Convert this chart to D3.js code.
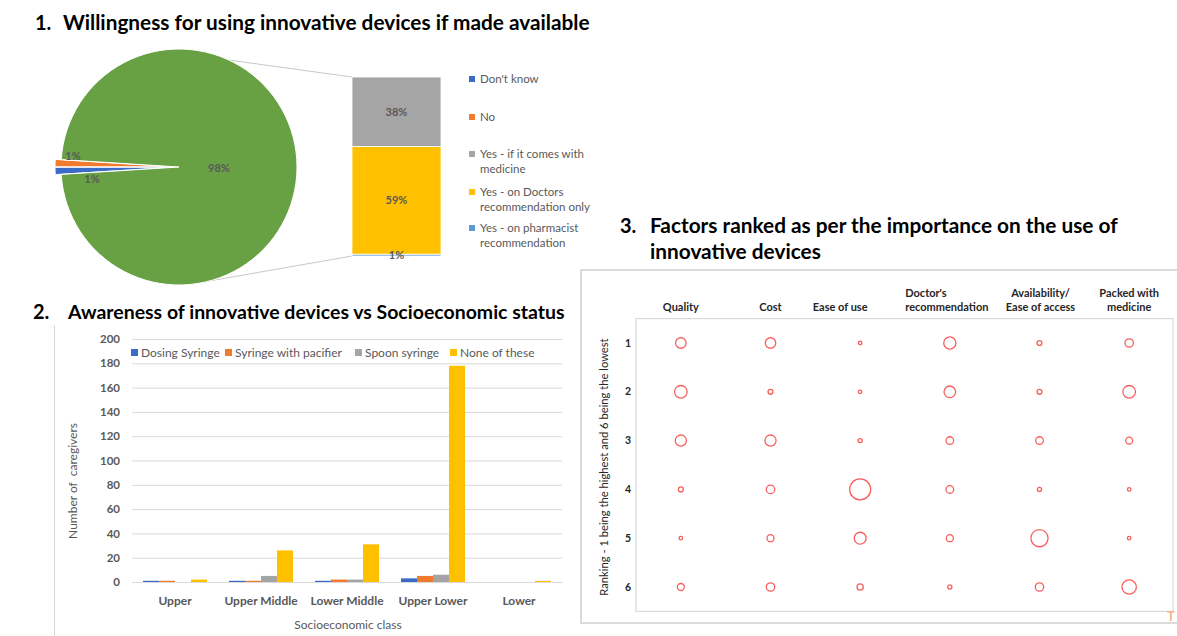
<!DOCTYPE html>
<html>
<head>
<meta charset="utf-8">
<script src="https://cdn.jsdelivr.net/npm/d3@7"></script>
<style>
  body { margin: 0; background: #fff; }
  svg { display: block; }
</style>
</head>
<body>
<svg id="fig" width="1177" height="636"></svg>
<script>
// ---------- Panel 1: willingness to use innovative devices (pie of pie) ----------
const pieCategories = ["Don't know", "No", "Yes"];
const pieValues = [1, 1, 98];
const barCategories = ["Yes - on pharmacist recommendation", "Yes - on Doctors recommendation only", "Yes - if it comes with medicine"];
const barValues = [1, 59, 38];
const willingLegend = [
  ["Don't know"],
  ["No"],
  ["Yes - if it comes with", "medicine"],
  ["Yes - on Doctors", "recommendation only"],
  ["Yes - on pharmacist", "recommendation"]
];

// ---------- Panel 2: awareness by socioeconomic class ----------
const classes = ["Upper", "Upper Middle", "Lower Middle", "Upper Lower", "Lower"];
const devices = ["Dosing Syringe", "Syringe with pacifier", "Spoon syringe", "None of these"];
const dosingSyringe = [1, 1, 1, 3, 0];
const syringePacifier = [1, 1, 2, 5, 0];
const spoonSyringe = [0, 5, 2, 6, 0];
const noneOfThese = [2, 26, 31, 178, 1];
const countTicks = [0, 20, 40, 60, 80, 100, 120, 140, 160, 180, 200];

// ---------- Panel 3: ranking of factors ----------
const factorHeaders = [
  ["Quality"], ["Cost"], ["Ease of use"],
  ["Doctor's", "recommendation"], ["Availability/", "Ease of access"], ["Packed with", "medicine"]
];
const ranks = [1, 2, 3, 4, 5, 6];
// respondents giving each rank (1..6) to a factor
const quality = [45, 65, 51, 10, 5, 20];
const cost = [45, 10, 51, 29, 20, 29];
const easeOfUse = [5, 5, 7, 180, 58, 16];
const doctorsRecommendation = [61, 55, 24, 24, 20, 7];
const availability = [10, 10, 24, 7, 120, 29];
const packedWithMedicine = [29, 65, 20, 5, 5, 84];

// ---------- shared styling ----------
const FONT = "Lato, 'Open Sans', sans-serif";
const GREY_TXT = "#595959";
const C_BLUE = "#3A6BC6", C_ORANGE = "#F07A2D", C_GREY = "#A5A5A5",
      C_YELLOW = "#FFC000", C_LBLUE = "#5B9BD5", C_GREEN = "#68A044";

const svg = d3.select("#fig");

// scale a text's font size so that it spans the given width
function fitWidth(sel, width) {
  const len = sel.node().getComputedTextLength();
  const fs = parseFloat(sel.attr("font-size")) * width / len;
  sel.attr("font-size", fs);
  return fs;
}

function heading(num, numX, x, y, text, width) {
  svg.append("text").attr("x", numX).attr("y", y).attr("font-family", FONT)
    .attr("font-weight", "bold").attr("font-size", 20).attr("fill", "#000").text(num);
  const t = svg.append("text").attr("x", x).attr("y", y).attr("font-family", FONT)
    .attr("font-weight", "bold").attr("font-size", 20).attr("fill", "#000").text(text);
  return fitWidth(t, width);
}

// ================= Panel 1 =================
heading("1.", 35, 63, 30, "Willingness for using innovative devices if made available", 527);

const pieCx = 179, pieCy = 167, R = 118;
const deg = Math.PI / 180;
const pieColors = d3.scaleOrdinal().domain(pieCategories).range([C_BLUE, C_ORANGE, C_GREEN]);
const pieData = d3.pie().sort(null).value(d => d.v)
  .startAngle(266.4 * deg).endAngle(266.4 * deg + 2 * Math.PI)(
    pieCategories.map((c, i) => ({ cat: c, v: pieValues[i] })));
const arc = d3.arc().innerRadius(0).outerRadius(R);

// connector lines from the main pie to the breakdown bar
const barX0 = 352, barX1 = 441;
const yBar = d3.scaleLinear().domain([0, d3.sum(barValues)]).range([256, 77]);
const rim = a => [pieCx + R * Math.sin(a * deg), pieCy - R * Math.cos(a * deg)];
svg.append("line").attr("x1", rim(25)[0]).attr("y1", rim(25)[1])
  .attr("x2", barX0).attr("y2", yBar(d3.sum(barValues)))
  .attr("stroke", "#C8C8C8").attr("stroke-width", 1);
svg.append("line").attr("x1", rim(165)[0]).attr("y1", rim(165)[1])
  .attr("x2", barX0).attr("y2", yBar(0))
  .attr("stroke", "#C8C8C8").attr("stroke-width", 1);

const pieG = svg.append("g").attr("transform", `translate(${pieCx},${pieCy})`);
pieG.selectAll("path").data(pieData).join("path")
  .attr("d", arc)
  .attr("fill", d => pieColors(d.data.cat))
  .attr("stroke", "#fff").attr("stroke-width", 1)
  .attr("transform", d => {
    if (d.data.cat === "Yes") return null;
    const mid = (d.startAngle + d.endAngle) / 2;
    return `translate(${6 * Math.sin(mid)},${-6 * Math.cos(mid)})`;
  });

// slice labels
pieData.forEach(d => {
  const mid = (d.startAngle + d.endAngle) / 2;
  let r, dy;
  if (d.data.cat === "Yes") { r = 40; dy = 1; }
  else if (d.data.cat === "No") { r = 106; dy = -8; }
  else { r = 87; dy = 9; }
  pieG.append("text")
    .attr("x", r * Math.sin(mid)).attr("y", -r * Math.cos(mid) + dy)
    .attr("dy", "0.35em").attr("text-anchor", "middle")
    .attr("font-family", FONT).attr("font-weight", "bold").attr("font-size", 11)
    .attr("fill", GREY_TXT).text(d3.format(".0%")(d.data.v / 100));
});

// breakdown bar
const barColors = d3.scaleOrdinal().domain(barCategories).range([C_LBLUE, C_YELLOW, C_GREY]);
let acc = 0;
const barSegs = barValues.map((v, i) => {
  const s = { cat: barCategories[i], v, y0: acc, y1: acc + v };
  acc += v;
  return s;
});
svg.append("g").selectAll("rect").data(barSegs).join("rect")
  .attr("x", barX0).attr("width", barX1 - barX0)
  .attr("y", d => yBar(d.y1)).attr("height", d => yBar(d.y0) - yBar(d.y1))
  .attr("fill", d => barColors(d.cat))
  .attr("stroke", "#fff").attr("stroke-width", 0.8);
svg.append("g").selectAll("text").data(barSegs).join("text")
  .attr("x", (barX0 + barX1) / 2).attr("y", d => (yBar(d.y0) + yBar(d.y1)) / 2)
  .attr("dy", "0.35em").attr("text-anchor", "middle")
  .attr("font-family", FONT).attr("font-weight", "bold").attr("font-size", 11)
  .attr("fill", GREY_TXT).text(d => d.v + "%");

// legend
const legendColors = [C_BLUE, C_ORANGE, C_GREY, C_YELLOW, C_LBLUE];
const legendY = [79, 117, 154, 192, 228];
willingLegend.forEach((lines, i) => {
  svg.append("rect").attr("x", 469).attr("y", legendY[i] - 3).attr("width", 6).attr("height", 6)
    .attr("fill", legendColors[i]);
  lines.forEach((ln, j) => {
    svg.append("text").attr("x", 480).attr("y", legendY[i] + j * 15).attr("dy", "0.35em")
      .attr("font-family", FONT).attr("font-size", 11.5).attr("fill", GREY_TXT).text(ln);
  });
});

// ================= Panel 2 =================
heading("2.", 33, 68, 319, "Awareness of innovative devices vs Socioeconomic status", 497);

svg.append("line").attr("x1", 54.5).attr("x2", 54.5).attr("y1", 325).attr("y2", 636)
  .attr("stroke", "#D9D9D9").attr("stroke-width", 1);

const p2 = { left: 132, right: 562, top: 339, bottom: 582 };
const x0 = d3.scaleBand().domain(classes).range([p2.left, p2.right]).paddingInner(0.256).paddingOuter(0.128);
const x1 = d3.scaleBand().domain(devices).range([0, x0.bandwidth()]);
const yCount = d3.scaleLinear().domain([0, 200]).range([p2.bottom, p2.top]);
const deviceColors = d3.scaleOrdinal().domain(devices).range([C_BLUE, C_ORANGE, C_GREY, C_YELLOW]);
const deviceSeries = [dosingSyringe, syringePacifier, spoonSyringe, noneOfThese];

// gridlines + tick labels
const yAxis = svg.append("g").attr("transform", `translate(${p2.left},0)`)
  .call(d3.axisLeft(yCount).tickValues(countTicks).tickSize(-(p2.right - p2.left)).tickPadding(12));
yAxis.select(".domain").remove();
yAxis.selectAll(".tick line").attr("stroke", "#D9D9D9");
yAxis.selectAll(".tick text").attr("font-family", FONT).attr("font-weight", "bold")
  .attr("font-size", 11.5).attr("fill", GREY_TXT);

const xAxis = svg.append("g").attr("transform", `translate(0,${p2.bottom})`)
  .call(d3.axisBottom(x0).tickSize(0).tickPadding(14));
xAxis.select(".domain").attr("stroke", "#D9D9D9");
xAxis.selectAll(".tick text").attr("font-family", FONT).attr("font-weight", "bold")
  .attr("font-size", 12).attr("fill", GREY_TXT);

const groups = svg.append("g").selectAll("g").data(classes).join("g")
  .attr("transform", d => `translate(${x0(d)},0)`);
groups.selectAll("rect")
  .data((c, ci) => devices.map((dv, di) => ({ dv, v: deviceSeries[di][ci] })))
  .join("rect")
  .attr("x", d => x1(d.dv)).attr("width", x1.bandwidth())
  .attr("y", d => yCount(d.v)).attr("height", d => yCount(0) - yCount(d.v))
  .attr("fill", d => deviceColors(d.dv));

// legend
const lg2x = [131, 225, 355, 450];
devices.forEach((dv, i) => {
  svg.append("rect").attr("x", lg2x[i]).attr("y", 349).attr("width", 7).attr("height", 7)
    .attr("fill", deviceColors(dv));
  svg.append("text").attr("x", lg2x[i] + 10).attr("y", 352.5).attr("dy", "0.35em")
    .attr("font-family", FONT).attr("font-size", 12).attr("fill", GREY_TXT).text(dv);
});

svg.append("text").attr("x", (p2.left + p2.right) / 2 + 1).attr("y", 625).attr("dy", "0.35em")
  .attr("text-anchor", "middle").attr("font-family", FONT).attr("font-size", 12)
  .attr("fill", GREY_TXT).text("Socioeconomic class");
svg.append("text").attr("transform", "translate(73,481) rotate(-90)").attr("dy", "0.35em")
  .attr("text-anchor", "middle").attr("font-family", FONT).attr("font-size", 12)
  .attr("fill", GREY_TXT).style("white-space", "pre")
  .text("Number of  caregivers");

// ================= Panel 3 =================
const fs3 = heading("3.", 620, 650, 233, "Factors ranked as per the importance on the use of", 468);
svg.append("text").attr("x", 650).attr("y", 259).attr("font-family", FONT)
  .attr("font-weight", "bold").attr("font-size", fs3).attr("fill", "#000").text("innovative devices");

// outer frame
svg.append("rect").attr("x", 581).attr("y", 270).attr("width", 610).attr("height", 353)
  .attr("fill", "none").attr("stroke", "#D0D0D0").attr("stroke-width", 1.5);

const xF = d3.scaleLinear().domain([0.5, 6.5]).range([636, 1174]);
const yR = d3.scaleLinear().domain([0.5, 6.5]).range([318.6, 611.4]);
svg.append("rect").attr("x", xF(0.5)).attr("y", yR(0.5))
  .attr("width", xF(6.5) - xF(0.5) - 1).attr("height", yR(6.5) - yR(0.5))
  .attr("fill", "none").attr("stroke", "#D9D9D9").attr("stroke-width", 1.2);

// column headers
const headerNudge = [0, 0, -20, -3, 1, 0];
factorHeaders.forEach((lines, i) => {
  const cx = xF(i + 1) + headerNudge[i];
  const n = lines.length;
  const nodes = lines.map((ln, j) => svg.append("text")
    .attr("x", cx).attr("y", 311 - (n - 1 - j) * 14.5)
    .attr("text-anchor", "middle").attr("font-family", FONT).attr("font-weight", "bold")
    .attr("font-size", 11).attr("fill", "#262626").text(ln));
  if (lines[0] === "Doctor's") {
    const left = cx - nodes[1].node().getComputedTextLength() / 2;
    nodes[0].attr("text-anchor", "start").attr("x", left);
  }
});

// row labels
svg.append("g").selectAll("text").data(ranks).join("text")
  .attr("x", 631).attr("y", d => yR(d)).attr("dy", "0.35em").attr("text-anchor", "end")
  .attr("font-family", FONT).attr("font-weight", "bold").attr("font-size", 10.5)
  .attr("fill", "#262626").text(d => d);

svg.append("text").attr("transform", "translate(604,467) rotate(-90)").attr("dy", "0.35em")
  .attr("text-anchor", "middle").attr("font-family", FONT).attr("font-size", 11.2)
  .attr("fill", "#262626").text("Ranking - 1 being the highest and 6 being the lowest");

// bubbles: area proportional to the number of respondents
const factorSeries = [quality, cost, easeOfUse, doctorsRecommendation, availability, packedWithMedicine];
const bubbles = [];
factorSeries.forEach((s, fi) => s.forEach((v, ri) => bubbles.push({ f: fi + 1, r: ranks[ri], v })));
const rScale = d3.scaleSqrt().domain([0, d3.max(bubbles, d => d.v)]).range([0, 10.5]);
svg.append("g").selectAll("circle").data(bubbles).join("circle")
  .attr("cx", d => xF(d.f)).attr("cy", d => yR(d.r)).attr("r", d => rScale(d.v))
  .attr("fill", "none").attr("stroke", "#F85F5C").attr("stroke-width", 1.3);

// clipped fragment at the lower right edge
svg.append("text").attr("x", 1167).attr("y", 621).attr("font-family", FONT)
  .attr("font-size", 13).attr("font-weight", "bold").attr("fill", "#F6B482").text("T");
</script>
</body>
</html>
